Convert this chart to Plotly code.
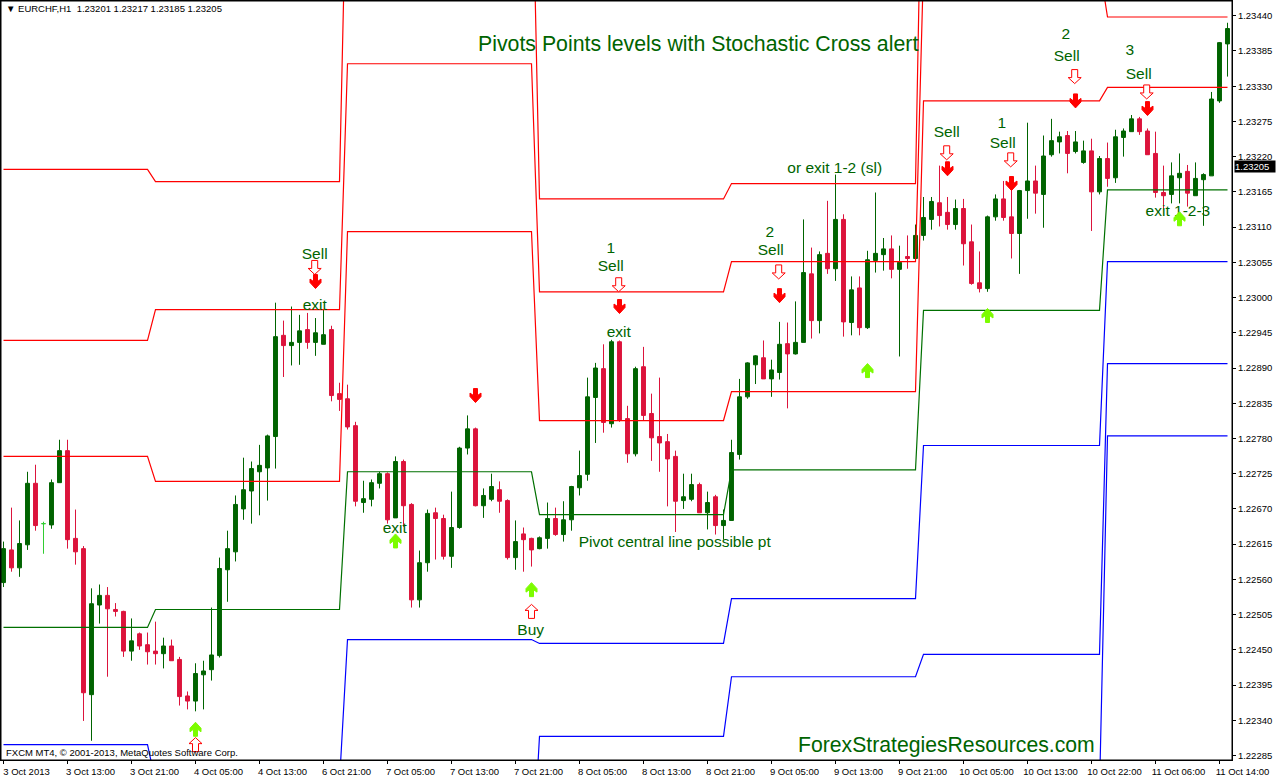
import numpy as np
import plotly.graph_objects as go

# EURCHF H1 candles, prices in points (1e-5)
opens = [122555, 122606, 122578, 122614, 122710, 122647, 122645, 122711, 122761, 122624,
         122608, 122380, 122520, 122535, 122513, 122510, 122448, 122475, 122458, 122448,
         122444, 122456, 122435, 122378, 122370, 122411, 122419, 122441, 122575, 122603,
         122670, 122698, 122728, 122734, 122783, 122941, 122925, 122930, 122950, 122930,
         122927, 122950, 122850, 122842, 122800, 122680, 122685, 122710, 122725, 122656,
         122744, 122677, 122528, 122586, 122664, 122655, 122596, 122641, 122765, 122795,
         122675, 122685, 122700, 122683, 122594, 122631, 122624, 122608, 122624, 122655,
         122630, 122653, 122703, 122724, 122844, 122889, 122803, 122931, 122811, 122756,
         122892, 122819, 122783, 122775, 122752, 122683, 122685, 122708, 122664, 122689,
         122644, 122652, 122755, 122845, 122895, 122906, 122873, 122883, 122928, 122912,
         122930, 123037, 122964, 123069, 123045, 123122, 122961, 123015, 122953, 123058,
         123067, 123076, 123044, 123064, 123061, 123097, 123122, 123148, 123133, 123114,
         123139, 123087, 123023, 123014, 123126, 123154, 123126, 123100, 123167, 123182,
         123161, 123223, 123243, 123253, 123228, 123211, 123229, 123165, 123217, 123187,
         123250, 123259, 123279, 123260, 123225, 123164, 123161, 123187, 123197, 123159,
         123184, 123190, 123307, 123396]
highs = [122619, 122672, 122652, 122728, 122739, 122650, 122716, 122778, 122778, 122669,
         122612, 122546, 122552, 122548, 122523, 122511, 122499, 122477, 122477, 122494,
         122469, 122466, 122439, 122385, 122429, 122433, 122516, 122594, 122636, 122691,
         122750, 122744, 122770, 122786, 122992, 122964, 122986, 122973, 122976, 122968,
         122981, 122956, 122867, 122864, 122806, 122714, 122716, 122728, 122727, 122752,
         122747, 122679, 122605, 122669, 122672, 122661, 122697, 122767, 122816, 122797,
         122702, 122725, 122713, 122685, 122652, 122641, 122625, 122627, 122680, 122672,
         122682, 122706, 122761, 122875, 122898, 122927, 122934, 122933, 122831, 122892,
         122923, 122850, 122875, 122787, 122761, 122725, 122725, 122711, 122697, 122692,
         122669, 122778, 122873, 122899, 122910, 122933, 122903, 122962, 122961, 122994,
         123122, 123078, 123072, 123151, 123192, 123130, 123033, 123033, 123073, 123164,
         123093, 123097, 123081, 123097, 123114, 123157, 123157, 123206, 123157, 123153,
         123154, 123114, 123072, 123128, 123161, 123182, 123182, 123168, 123273, 123206,
         123253, 123279, 123259, 123260, 123260, 123245, 123248, 123221, 123242, 123262,
         123264, 123285, 123282, 123264, 123259, 123206, 123211, 123225, 123207, 123211,
         123194, 123321, 123399, 123429]
lows = [122548, 122572, 122564, 122606, 122636, 122600, 122639, 122711, 122608, 122583,
        122339, 122308, 122491, 122408, 122502, 122439, 122433, 122450, 122427, 122427,
        122421, 122433, 122363, 122357, 122354, 122357, 122402, 122438, 122525, 122588,
        122653, 122647, 122660, 122683, 122733, 122876, 122894, 122895, 122920, 122909,
        122927, 122838, 122823, 122794, 122674, 122664, 122674, 122702, 122647, 122656,
        122642, 122516, 122516, 122572, 122591, 122591, 122578, 122639, 122755, 122674,
        122656, 122682, 122664, 122591, 122575, 122572, 122580, 122607, 122608, 122628,
        122619, 122636, 122691, 122714, 122773, 122789, 122797, 122806, 122742, 122752,
        122808, 122745, 122728, 122674, 122634, 122670, 122682, 122664, 122638, 122630,
        122622, 122652, 122747, 122842, 122865, 122873, 122845, 122872, 122827, 122911,
        122930, 122936, 122944, 123037, 123026, 122939, 122941, 122941, 122951, 123039,
        123042, 123030, 122908, 123045, 123061, 123089, 123106, 123111, 123106, 123106,
        123050, 123020, 123008, 123009, 123120, 123120, 123061, 123037, 123123, 123131,
        123109, 123220, 123225, 123194, 123225, 123209, 123104, 123161, 123173, 123179,
        123220, 123259, 123254, 123223, 123156, 123137, 123147, 123147, 123142, 123159,
        123112, 123190, 123304, 123345]
closes = [122608, 122578, 122616, 122710, 122644, 122647, 122711, 122761, 122622, 122603,
          122383, 122522, 122535, 122514, 122510, 122448, 122464, 122456, 122447, 122444,
          122456, 122433, 122377, 122370, 122413, 122417, 122442, 122577, 122608, 122677,
          122700, 122733, 122738, 122784, 122939, 122925, 122930, 122948, 122930, 122945,
          122942, 122847, 122841, 122798, 122682, 122686, 122711, 122725, 122653, 122744,
          122675, 122528, 122586, 122663, 122655, 122596, 122641, 122765, 122795, 122675,
          122691, 122705, 122682, 122594, 122619, 122622, 122606, 122625, 122655, 122630,
          122653, 122705, 122722, 122845, 122890, 122805, 122931, 122809, 122756, 122889,
          122816, 122781, 122773, 122748, 122682, 122689, 122708, 122664, 122680, 122644,
          122652, 122758, 122845, 122898, 122909, 122873, 122887, 122927, 122912, 122930,
          123039, 122964, 123067, 123045, 123122, 122962, 123012, 122953, 123059, 123069,
          123076, 123044, 123055, 123061, 123097, 123125, 123150, 123128, 123114, 123139,
          123084, 123022, 123014, 123126, 123154, 123125, 123100, 123167, 123182, 123163,
          123221, 123245, 123251, 123225, 123243, 123229, 123165, 123217, 123186, 123251,
          123260, 123279, 123259, 123223, 123164, 123159, 123190, 123194, 123163, 123186,
          123192, 123310, 123398, 123420]
doji_bars = [5]

# daily pivot levels, one value per session
session_bars = [19, 24, 24, 24, 24, 23, 16]
r3 = [123200, 123181, 123740, 123154, 123178, 123846, 123599]
r2 = [122933, 122981, 123365, 123009, 123056, 123518, 123438]
r1 = [122752, 122713, 123103, 122808, 122853, 123307, 123328]
pivot = [122485, 122513, 122728, 122661, 122731, 122980, 123168]
s1 = [122302, 122244, 122466, 122460, 122530, 122769, 123056]
s2 = [122035, 122044, 122091, 122315, 122408, 122443, 122897]
s3 = [121853, 121776, 121829, 122112, 122207, 122230, 122784]

# signal arrows
stoch_sell_bars = [39, 77, 59, 97, 118, 126, 134, 143]
stoch_sell_prices = [123025, 122986, 122847, 123003, 123201, 123178, 123307, 123295]
stoch_buy_bars = [24, 49, 66, 108, 123, 147]
stoch_buy_prices = [122326, 122620, 122544, 122886, 122972, 123123]
sell_hint_bars = [38.9, 76.9, 96.9, 117.9, 125.9, 133.9, 142.9]
sell_hint_prices = [123047, 123020, 123040, 123226, 123215, 123345, 123321]
buy_hint_bars = [24, 66]
buy_hint_prices = [122302, 122510]

# text notes drawn on the chart
note_texts = ["Sell", "exit", "1", "Sell", "exit", "or exit 1-2 (sl)", "2", "Sell", "Sell", "1", "Sell",
              "2", "Sell", "3", "Sell", "exit 1-2-3", "exit", "Buy", "Pivot central line possible pt"]
note_bars = [38.9, 38.9, 75.9, 75.9, 76.9, 103.9, 95.8, 95.9, 117.9, 124.8, 124.9, 132.8, 132.9, 140.8, 141.9,
             146.8, 48.9, 65.9, 83.9]
note_prices = [123066, 122987, 123075, 123048, 122945, 123200, 123101, 123073, 123257, 123270, 123239,
               123409, 123375, 123384, 123348, 123133, 122639, 122479, 122617]

price_ticks = [123440, 123385, 123330, 123275, 123220, 123165, 123110, 123055, 123000, 122945, 122890,
               122835, 122780, 122725, 122670, 122615, 122560, 122505, 122450, 122395, 122340, 122285]
time_tick_bars = list(range(0, 154, 8))
time_tick_labels = ["3 Oct 2013", "3 Oct 13:00", "3 Oct 21:00", "4 Oct 05:00", "4 Oct 13:00", "6 Oct 21:00",
                    "7 Oct 05:00", "7 Oct 13:00", "7 Oct 21:00", "8 Oct 05:00", "8 Oct 13:00", "8 Oct 21:00",
                    "9 Oct 05:00", "9 Oct 13:00", "9 Oct 21:00", "10 Oct 05:00", "10 Oct 13:00", "10 Oct 22:00",
                    "11 Oct 06:00", "11 Oct 14:00"]

GREEN = "#006400"
CRIMSON = "#DC143C"
RED = "#FF0000"
BLUE = "#0000FF"
LIME = "#7CFC00"
FONT = "Liberation Sans"

# arrow outlines in pixels around their anchor
SOLID_DOWN = "M -2 7 L 2 7 L 2 0 L 5.5 2.5 L 5.5 -1 L 0 -7 L -5.5 -1 L -5.5 2.5 L -2 0 Z"
SOLID_UP = "M -2 -7 L 2 -7 L 2 0 L 5.5 -2.5 L 5.5 1 L 0 7 L -5.5 1 L -5.5 -2.5 L -2 0 Z"
HOLLOW_DOWN = "M -3 7 L 3 7 L 3 -1 L 6.5 -1 L 0 -7 L -6.5 -1 L -3 -1 Z"
HOLLOW_UP = "M -3 -7 L 3 -7 L 3 1 L 6.5 1 L 0 7 L -6.5 1 L -3 1 Z"


def px(values):
    return np.array(values) / 100000


def add_arrows(fig, arrow_bars, arrow_prices, path, fill, edge):
    for b, p in zip(arrow_bars, px(arrow_prices)):
        fig.add_shape(type="path", path=path, xsizemode="pixel", ysizemode="pixel",
                      xanchor=b, yanchor=p, xref="x", yref="y",
                      fillcolor=fill, line=dict(color=edge, width=1), layer="above")


bars = np.arange(len(opens))
is_doji = np.isin(bars, doji_bars)
fig = go.Figure()

# pivot lines go under the candles
for levels, color in [(r3, RED), (r2, RED), (r1, RED), (pivot, "#007000"), (s1, BLUE), (s2, BLUE), (s3, BLUE)]:
    fig.add_trace(go.Scatter(x=bars, y=px(np.repeat(levels, session_bars)), mode="lines",
                             line=dict(color=color, width=1.2)))

fig.add_trace(go.Candlestick(
    x=bars[~is_doji],
    open=px(opens)[~is_doji], high=px(highs)[~is_doji], low=px(lows)[~is_doji], close=px(closes)[~is_doji],
    increasing=dict(line=dict(color=GREEN, width=1), fillcolor=GREEN),
    decreasing=dict(line=dict(color=CRIMSON, width=1), fillcolor=CRIMSON),
    whiskerwidth=0,
))
fig.add_trace(go.Candlestick(
    x=bars[is_doji],
    open=px(opens)[is_doji], high=px(highs)[is_doji], low=px(lows)[is_doji], close=px(closes)[is_doji],
    increasing=dict(line=dict(color="#32CD32", width=1), fillcolor="#32CD32"),
    decreasing=dict(line=dict(color="#32CD32", width=1), fillcolor="#32CD32"),
    whiskerwidth=0,
))

add_arrows(fig, sell_hint_bars, sell_hint_prices, HOLLOW_DOWN, "white", RED)
add_arrows(fig, buy_hint_bars, buy_hint_prices, HOLLOW_UP, "white", RED)
add_arrows(fig, stoch_sell_bars, stoch_sell_prices, SOLID_DOWN, RED, RED)
add_arrows(fig, stoch_buy_bars, stoch_buy_prices, SOLID_UP, LIME, LIME)

fig.add_trace(go.Scatter(x=note_bars, y=px(note_prices), mode="text", text=note_texts,
                         textposition="middle center",
                         textfont=dict(family=FONT, size=15.5, color=GREEN)))

fig.add_annotation(x=86.82, y=1.23396, text="Pivots Points levels with Stochastic Cross alert",
                   showarrow=False, font=dict(family=FONT, size=21.3, color=GREEN))
fig.add_annotation(x=117.9, y=1.22302, text="ForexStrategiesResources.com",
                   showarrow=False, font=dict(family=FONT, size=21.2, color=GREEN))
fig.add_annotation(xref="paper", yref="paper", x=0.0024, y=0.0105, xanchor="left", yanchor="middle",
                   text="FXCM MT4, © 2001-2013, MetaQuotes Software Corp.",
                   showarrow=False, font=dict(family=FONT, size=9.5, color="black"))
fig.add_annotation(xref="paper", yref="paper", x=0.0024, y=0.9895, xanchor="left", yanchor="middle",
                   text="▼ EURCHF,H1  1.23201 1.23217 1.23185 1.23205",
                   showarrow=False, font=dict(family=FONT, size=9.5, color="black"))
fig.add_annotation(xref="paper", x=1.002, y=1.23204, xanchor="left", text="1.23205  ", showarrow=False,
                   bgcolor="black", borderpad=0, font=dict(family=FONT, size=9.5, color="white"))

# chart frame
fig.add_shape(type="rect", xref="paper", yref="paper", x0=0, x1=1, y0=0, y1=1,
              line=dict(color="black", width=1), layer="above")

fig.update_layout(
    width=1276, height=779,
    margin=dict(l=1, r=44, t=1, b=19),
    paper_bgcolor="white", plot_bgcolor="white",
    showlegend=False,
    xaxis=dict(range=[-0.3125, 153.5625], tickvals=time_tick_bars, ticktext=time_tick_labels,
               ticks="outside", ticklen=3, tickcolor="black", showgrid=False, zeroline=False,
               showline=True, linecolor="black", linewidth=1, mirror=True,
               rangeslider=dict(visible=False), tickangle=0, ticklabelshift=23,
               tickfont=dict(family=FONT, size=9.5, color="black")),
    yaxis=dict(range=[1.22278, 1.23463], side="right", tickvals=px(price_ticks),
               tickformat=".5f", ticks="outside", ticklen=3, tickcolor="black", showgrid=False, zeroline=False,
               showline=True, linecolor="black", linewidth=1, mirror=True,
               tickfont=dict(family=FONT, size=9.5, color="black")),
)

fig.write_html("out.html", config=dict(displayModeBar=False),
               post_script="document.body.style.margin='0';document.body.style.overflow='hidden';")
